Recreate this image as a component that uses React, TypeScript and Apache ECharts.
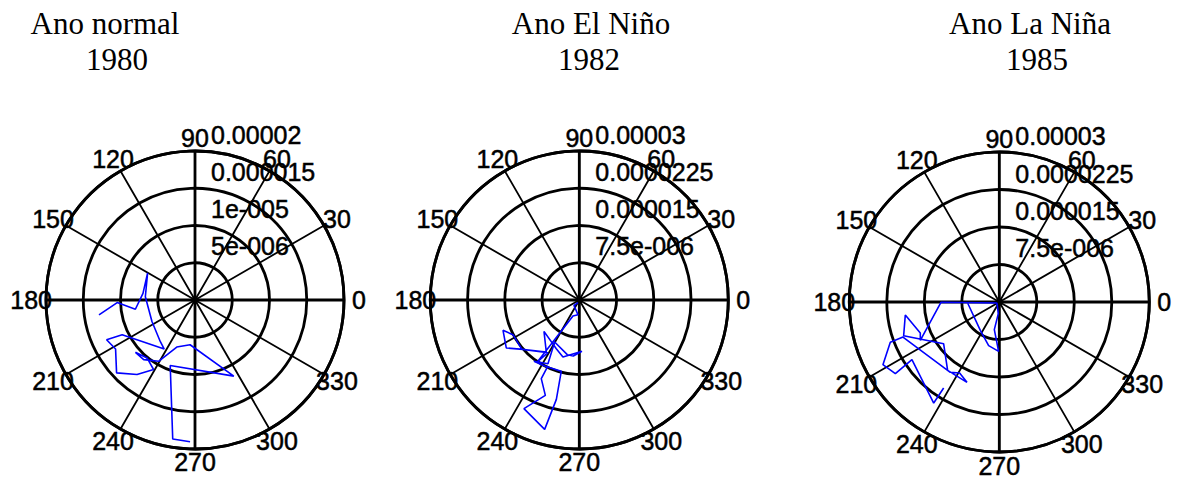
import { useEffect, useRef } from "react";
import * as echarts from "echarts";

// Panel headings
const titles = ["Ano normal", "Ano El Niño", "Ano La Niña"];
const years = ["1980", "1982", "1985"];

// Angular grid (degrees, counter-clockwise from east)
const angleTicks = [0, 30, 60, 90, 120, 150, 180, 210, 240, 270, 300, 330];

// Radial scale per panel and the ring labels printed on it
const radiusMax = [2e-5, 3e-5, 3e-5];
const ringLabels1980 = ["5e-006", "1e-005", "0.000015", "0.00002"];
const ringLabels1982 = ["7.5e-006", "0.000015", "0.0000225", "0.00003"];
const ringLabels1985 = ["7.5e-006", "0.000015", "0.0000225", "0.00003"];

// Trajectories: direction (degrees) and magnitude
const theta1980 = [188.8, 181.9, 188.8, 172.7, 150.2, 176.2, 206.6, 230.0, 237.9, 205.5, 204.2, 211.7, 222.9, 232.1, 239.2, 230.4, 221.3, 229.3, 239.3, 248.8, 263.7, 297.0, 249.3, 260.9, 268.0];
const rho1980 = [1.304e-5, 1.045e-5, 0.81e-5, 0.704e-5, 0.733e-5, 0.668e-5, 0.646e-5, 0.726e-5, 0.777e-5, 1.083e-5, 1.301e-5, 1.253e-5, 1.437e-5, 1.267e-5, 1.086e-5, 1.01e-5, 1.064e-5, 1.056e-5, 0.957e-5, 0.677e-5, 0.604e-5, 1.147e-5, 0.941e-5, 1.89e-5, 1.904e-5];

const theta1982 = [243.4, 225.0, 264.8, 248.4, 235.9, 239.3, 221.2, 213.3, 201.7, 207.6, 220.7, 237.6, 221.6, 244.7, 254.0, 273.0, 263.9, 257.6, 239.6, 243.8, 233.5, 242.3, 255.8, 257.0, 255.0, 243.0, 250.4, 244.2, 244.6];
const rho1982 = [0.06e-5, 0.152e-5, 0.297e-5, 0.346e-5, 1.508e-5, 1.234e-5, 1.508e-5, 1.759e-5, 1.653e-5, 1.507e-5, 1.523e-5, 1.24e-5, 0.951e-5, 1.084e-5, 1.194e-5, 1.035e-5, 1.134e-5, 1.127e-5, 0.981e-5, 1.429e-5, 1.536e-5, 1.501e-5, 1.481e-5, 2.053e-5, 2.696e-5, 2.455e-5, 2.038e-5, 1.759e-5, 1.471e-5];

const theta1985 = [181.8, 236.2, 256.3, 269.2, 259.8, 265.1, 203.2, 180.3, 205.9, 201.4, 187.9, 199.4, 216.8, 232.9, 248.1, 240.8, 235.1, 200.0, 200.3, 208.3, 214.6, 213.4, 237.0, 237.1];
const rho1985 = [0.634e-5, 0.682e-5, 0.899e-5, 0.987e-5, 0.562e-5, 0.234e-5, 0.051e-5, 1.167e-5, 1.756e-5, 1.697e-5, 1.898e-5, 2.028e-5, 1.391e-5, 1.713e-5, 1.732e-5, 1.627e-5, 1.714e-5, 2.05e-5, 2.324e-5, 2.643e-5, 2.526e-5, 2.093e-5, 2.409e-5, 2.049e-5];

const thetas = [theta1980, theta1982, theta1985];
const rhos = [rho1980, rho1982, rho1985];
const ringLabels = [ringLabels1980, ringLabels1982, ringLabels1985];

// Panel layout (pixels)
const panels = [
  { cx: 195, cy: 300, r: 149, titleX: 105, yearX: 117 },
  { cx: 579.3, cy: 300, r: 149, titleX: 591, yearX: 589 },
  { cx: 999.3, cy: 302, r: 150, titleX: 1030, yearX: 1037 },
];

const SANS = '25px "Liberation Sans", Arial, sans-serif';
const SERIF = '31px "Liberation Serif", "Times New Roman", serif';

const sansStyle = (text: string, align: string) => ({
  text,
  font: SANS,
  fill: "#000",
  stroke: "#000",
  lineWidth: 0.5,
  lineHeight: 22,
  align,
  verticalAlign: "middle",
});

export default function App() {
  const ref = useRef<HTMLDivElement>(null);

  useEffect(() => {
    if (!ref.current) return;
    const chart = echarts.init(ref.current, undefined, { renderer: "svg" });

    const polar: any[] = [];
    const angleAxis: any[] = [];
    const radiusAxis: any[] = [];
    const series: any[] = [];
    const graphic: any[] = [];

    panels.forEach((p, i) => {
      const main = i * 2;
      const over = i * 2 + 1;
      polar.push({ center: [p.cx, p.cy], radius: p.r });
      polar.push({ center: [p.cx, p.cy], radius: p.r });

      // 30° spokes, outer circle
      angleAxis.push({
        polarIndex: main,
        type: "value",
        min: 0,
        max: 360,
        interval: 30,
        startAngle: 0,
        clockwise: false,
        axisLine: { show: true, lineStyle: { color: "#000", width: 2.8 } },
        axisTick: { show: false },
        axisLabel: { show: false },
        splitLine: { show: true, lineStyle: { color: "#000", width: 1.8 } },
      });
      // heavier main axes
      angleAxis.push({
        polarIndex: over,
        type: "value",
        min: 0,
        max: 360,
        interval: 90,
        startAngle: 0,
        clockwise: false,
        axisLine: { show: false },
        axisTick: { show: false },
        axisLabel: { show: false },
        splitLine: { show: true, lineStyle: { color: "#000", width: 2.8 } },
      });

      // concentric rings
      radiusAxis.push({
        polarIndex: main,
        type: "value",
        min: 0,
        max: radiusMax[i],
        interval: radiusMax[i] / 4,
        axisLine: { show: false },
        axisTick: { show: false },
        axisLabel: { show: false },
        splitLine: { show: true, lineStyle: { color: "#000", width: 2.8 } },
      });
      radiusAxis.push({
        polarIndex: over,
        type: "value",
        min: 0,
        max: radiusMax[i],
        axisLine: { show: false },
        axisTick: { show: false },
        axisLabel: { show: false },
        splitLine: { show: false },
      });

      series.push({
        type: "line",
        coordinateSystem: "polar",
        polarIndex: main,
        data: rhos[i].map((r, k) => [r, thetas[i][k]]),
        showSymbol: false,
        symbol: "none",
        clip: false,
        z: 5,
        lineStyle: { color: "#0000ff", width: 1.6 },
      });

      // headings
      graphic.push({
        type: "text",
        x: p.titleX,
        y: 23,
        style: { text: titles[i], font: SERIF, fill: "#000", align: "center", verticalAlign: "middle" },
      });
      graphic.push({
        type: "text",
        x: p.yearX,
        y: 59,
        style: { text: years[i], font: SERIF, fill: "#000", align: "center", verticalAlign: "middle" },
      });

      // angle labels at about 1.1 × outer radius
      angleTicks.forEach((a) => {
        const rad = (a * Math.PI) / 180;
        graphic.push({
          type: "text",
          x: p.cx + 1.1 * p.r * Math.cos(rad),
          y: p.cy - 1.09 * p.r * Math.sin(rad),
          z: 10,
          style: sansStyle(String(a), "center"),
        });
      });

      // ring labels near the 82° direction
      const s82 = Math.sin((82 * Math.PI) / 180);
      ringLabels[i].forEach((lab, k) => {
        const rr = (p.r * (k + 1)) / 4;
        graphic.push({
          type: "text",
          x: p.cx + 16,
          y: p.cy - rr * s82 - 17,
          z: 10,
          style: sansStyle(lab, "left"),
        });
      });
    });

    chart.setOption({
      animation: false,
      backgroundColor: "#fff",
      polar,
      angleAxis,
      radiusAxis,
      series,
      graphic,
    });

    return () => chart.dispose();
  }, []);

  return (
    <div
      ref={ref}
      style={{ position: "fixed", left: 0, top: 0, width: 1180, height: 479, background: "#fff" }}
    />
  );
}
